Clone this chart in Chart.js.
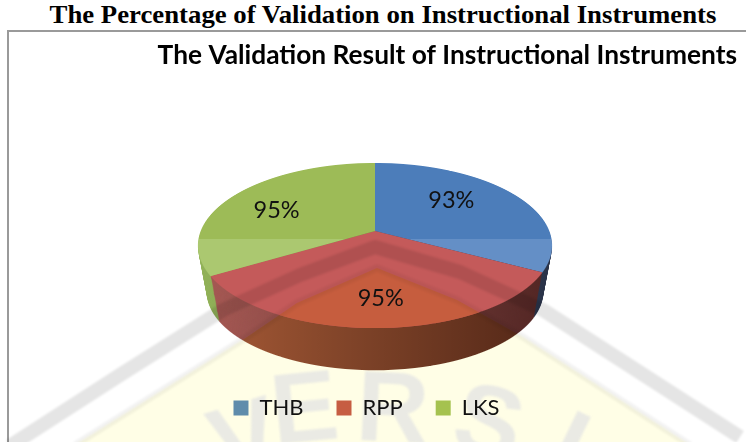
<!DOCTYPE html>
<html><head><meta charset="utf-8">
<style>
html,body{margin:0;padding:0;background:#fff;width:746px;height:442px;overflow:hidden}
#h{position:absolute;left:0;top:3px;width:746px;text-align:center;white-space:nowrap;font:bold 25px "Liberation Serif",serif;color:#000;line-height:24px;transform:translateX(10px) scaleX(1.07)}
#frame{position:absolute;left:7px;top:30px;right:-4px;bottom:-4px;border:2px solid #9a9a9a;box-sizing:border-box}
#wrap{position:absolute;left:0;top:0;width:746px;height:442px}
</style>
<script src="https://cdn.jsdelivr.net/npm/chart.js@4/dist/chart.umd.min.js"></script>
</head><body>
<div id="h">The Percentage of Validation on Instructional Instruments</div>
<div id="frame"></div>
<div id="wrap"><canvas id="c" width="746" height="442"></canvas></div>
<script>
const categories = ['THB', 'RPP', 'LKS'];
const values = [93, 95, 95];
const sliceColors = ['#4f7fbb', '#c25a58', '#9dbb57'];
const legendColors = ['#5f8cab', '#c65d42', '#a5c24f'];
const sideColors = ['#4a78aa', '#a85a55', '#93b35a'];
const labelRadial = [0.62, 0.73, 0.65];
const labelTurn = [-10, -1, -5];

// view of the pie plane
const V = {cx: 375, cy: 231, A: 174.3, B: 80, k: 0.176, depth: 42, shrink: 0.05, shift: 47};
// faint scanned watermark paths
const outerBand = [[10,446],[120,375],[223,310],[300,275],[375,247],[460,272],[543,310],[740,437]];
const innerBand = [[75,445],[247,337],[297,303],[377,268],[457,300],[523,337],[690,445]];

function faceColor(i, s) {
  if (i === 0) return s < 239 ? '#4c7dba' : '#648fc6';
  if (i === 2) return s < 239 ? '#9dbb57' : '#abc870';
  return '#c45a5a';
}
function underColor(i, s) {
  return i === 1 ? '#c65d3e' : faceColor(i, s);
}

function withColor(arc, color, fn) {
  const saved = arc.options;
  arc.options = Object.assign(Object.create(saved), {backgroundColor: color});
  fn();
  arc.options = saved;
}

function drawFace(ctx, arcs, scale, shift, colorFn) {
  const R = arcs[0].outerRadius, ax = arcs[0].x, ay = arcs[0].y;
  const top = Math.floor(V.cy + shift - 70 * scale), bot = Math.ceil(V.cy + shift + 98 * scale);
  const toV = s => { const y = (s - V.cy - shift) / scale; return y / (V.B + V.k * y); };
  for (let s = top; s < bot; s++) {
    const v0 = toV(s), v1 = toV(s + 1);
    const w = 1 / (1 - V.k * (v0 + v1) / 2);
    const a = V.A * w * scale / R;
    const d = 1 / ((v1 - v0) * R);
    ctx.save();
    ctx.setTransform(1, 0, 0, 1, 0, 0);
    ctx.beginPath();
    ctx.rect(0, s, 746, 1);
    ctx.clip();
    ctx.setTransform(a, 0, 0, d, V.cx - a * ax, s - d * (ay + v0 * R));
    arcs.forEach((arc, i) => withColor(arc, colorFn(i, s), () => arc.draw(ctx)));
    ctx.restore();
  }
}

function project(u, v) {
  const w = 1 / (1 - V.k * v);
  return [V.cx + V.A * u * w, V.cy + V.B * v * w];
}

function polyPath(ctx, pts) {
  pts.forEach((p, i) => i ? ctx.lineTo(p[0], p[1]) : ctx.moveTo(p[0], p[1]));
}
function underBand(ctx) {
  ctx.beginPath();
  polyPath(ctx, innerBand);
  ctx.lineTo(690, 450); ctx.lineTo(75, 450);
  ctx.closePath();
}

const pie3d = {
  id: 'pie3d',
  afterLayout(chart) {
    chart.legend.left -= 2;
    chart.legend.right -= 2;
  },
  beforeDatasetsDraw(chart) {
    const ctx = chart.ctx, arcs = chart.getDatasetMeta(0).data;
    for (let d = V.depth; d >= 1; d--) {
      const f = d / V.depth;
      drawFace(ctx, arcs, 1 - V.shrink * f, V.shift * f, i => sideColors[i]);
    }
    ctx.save();
    ctx.beginPath(); ctx.rect(150, 225, 450, 155); ctx.clip();
    ctx.globalCompositeOperation = 'source-atop';
    ctx.save();
    underBand(ctx); ctx.clip();
    ctx.fillStyle = '#a85a36';
    ctx.fillRect(150, 225, 450, 155);
    ctx.restore();
    const g = ctx.createLinearGradient(200, 0, 550, 0);
    g.addColorStop(0, 'rgba(0,0,0,0)');
    g.addColorStop(1, 'rgba(20,0,0,0.58)');
    ctx.fillStyle = g;
    ctx.fillRect(150, 225, 450, 155);
    ctx.restore();
    drawFace(ctx, arcs, 1, 0, faceColor);
    ctx.save();
    underBand(ctx); ctx.clip();
    drawFace(ctx, arcs, 1, 0, underColor);
    ctx.restore();
    return false;
  },
  afterDraw(chart) {
    const ctx = chart.ctx, arcs = chart.getDatasetMeta(0).data;
    ctx.save();
    ctx.fillStyle = '#111';
    ctx.font = '23.5px Lato';
    ctx.textAlign = 'center';
    ctx.textBaseline = 'middle';
    arcs.forEach((arc, i) => {
      const mid = (arc.startAngle + arc.endAngle) / 2 + labelTurn[i] * Math.PI / 180;
      const [x, y] = project(Math.cos(mid) * labelRadial[i], Math.sin(mid) * labelRadial[i]);
      ctx.fillText(values[i] + '%', x, y);
    });
    ctx.restore();
    // watermark showing through the scan
    ctx.save();
    ctx.lineJoin = 'round';
    ctx.filter = 'blur(1.2px)';
    ctx.strokeStyle = 'rgba(0,0,0,0.1)';
    ctx.lineWidth = 14;
    ctx.beginPath(); polyPath(ctx, outerBand); ctx.stroke();
    ctx.strokeStyle = 'rgba(0,0,0,0.05)';
    ctx.lineWidth = 7;
    ctx.beginPath(); polyPath(ctx, innerBand); ctx.stroke();
    ctx.globalCompositeOperation = 'destination-over';
    ctx.fillStyle = '#eaeae4';
    ctx.font = 'bold 100px "Liberation Sans"';
    ctx.textBaseline = 'top';
    [['V', 232, 396, -0.3], ['E', 300, 364, -0.1], ['R', 395, 364, 0.05], ['S', 500, 379, 0.25], ['I', 588, 406, 0.45]].forEach(l => {
      ctx.save();
      ctx.translate(l[1], l[2]); ctx.rotate(l[3]);
      ctx.textAlign = 'center';
      ctx.fillText(l[0], 0, 0);
      ctx.restore();
    });
    ctx.fillStyle = '#fffee6';
    underBand(ctx); ctx.fill();
    ctx.restore();
  }
};

new Chart(document.getElementById('c'), {
  type: 'pie',
  data: {labels: categories, datasets: [{data: values, backgroundColor: sliceColors, borderWidth: 0}]},
  options: {
    responsive: false,
    animation: false,
    layout: {padding: {top: 33, bottom: 13, left: 0, right: 9}},
    plugins: {
      tooltip: {enabled: false},
      title: {display: true, text: 'The Validation Result of Instructional Instruments', color: '#000',
        font: {family: 'Lato', weight: 'bold', size: 26.3}, padding: {top: 7, bottom: 0}, align: 'end',
        fullSize: true},
      legend: {position: 'bottom', labels: {color: '#111', font: {family: 'Lato', size: 22}, boxWidth: 15, boxHeight: 15, padding: 33,
        generateLabels: c => categories.map((name, i) => ({text: name, fillStyle: legendColors[i], strokeStyle: legendColors[i], lineWidth: 0, index: i, fontColor: '#111'}))}}
    }
  },
  plugins: [pie3d]
});
</script>
</body></html>
